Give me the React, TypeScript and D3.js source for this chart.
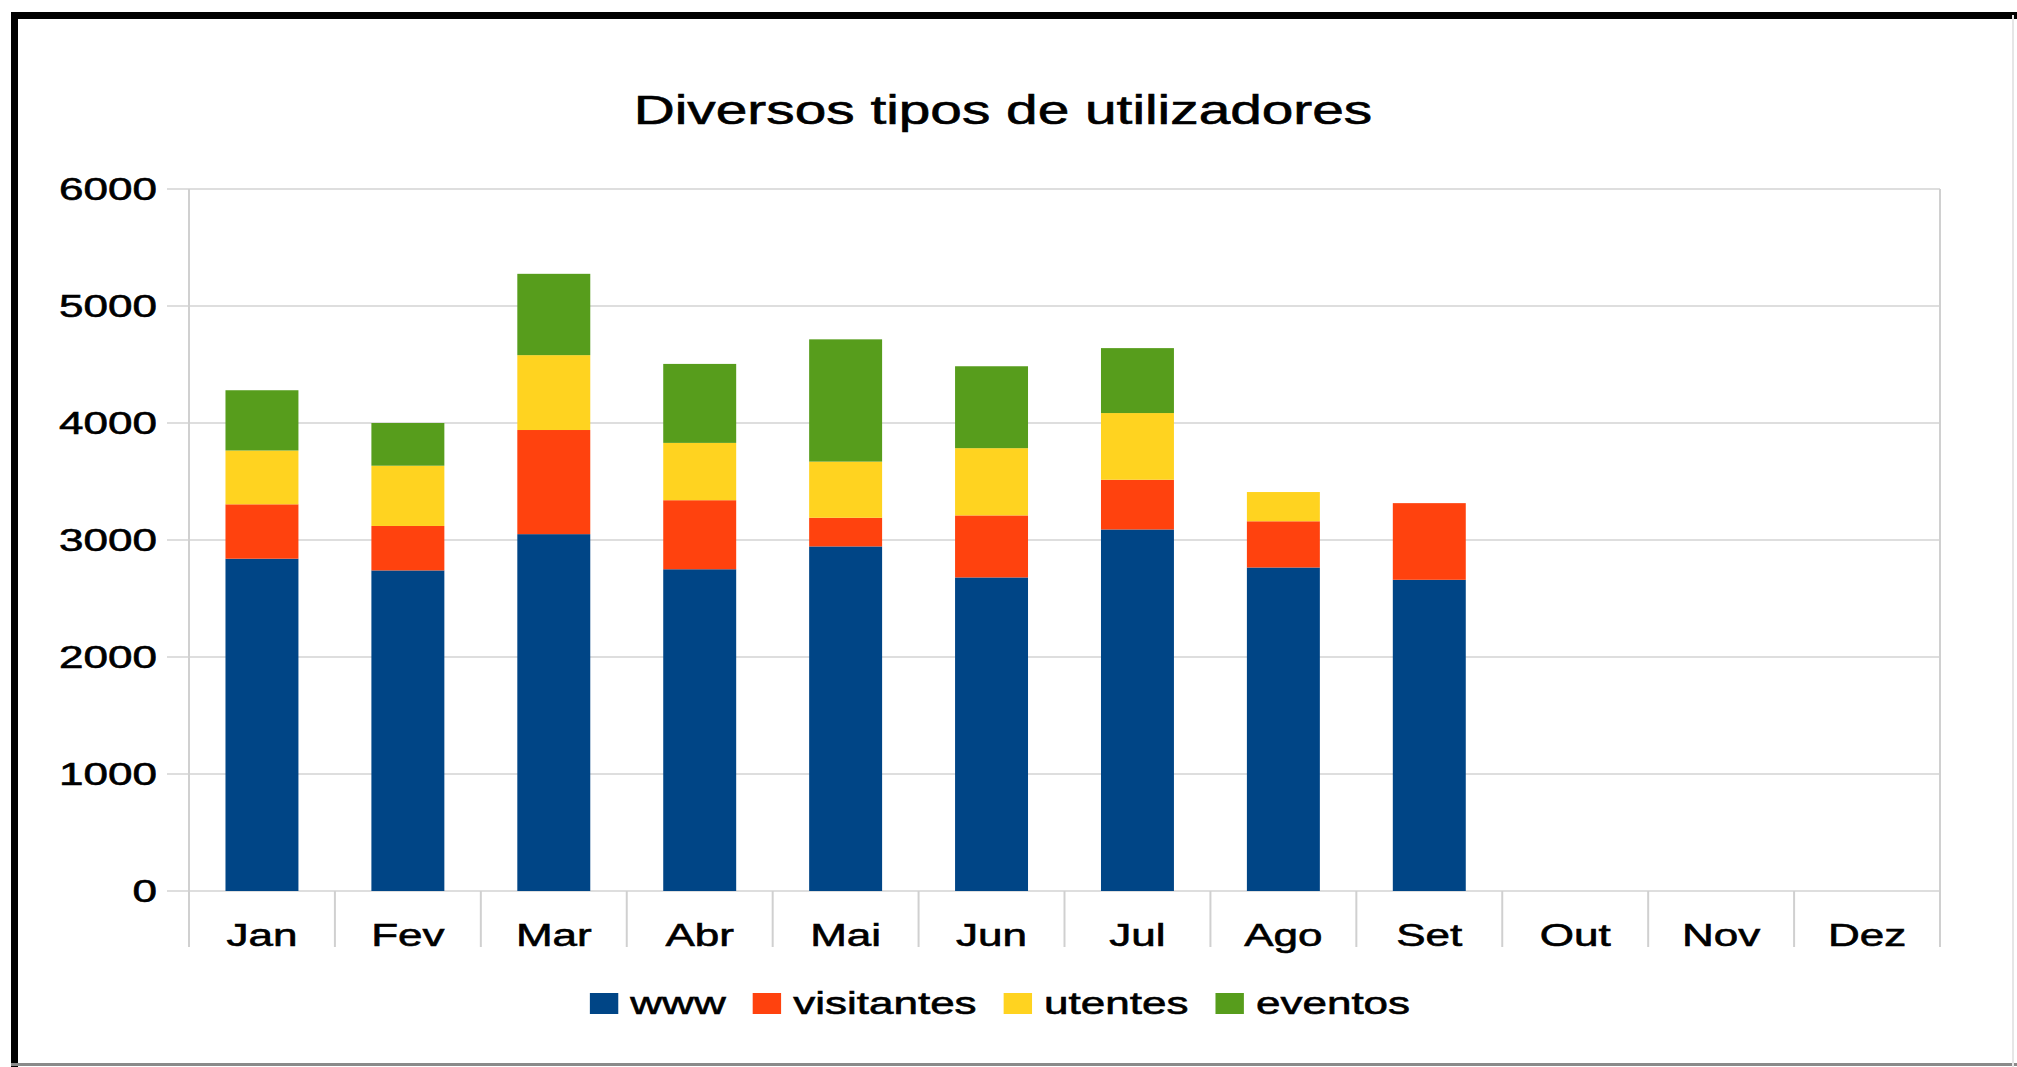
import React, { useMemo } from 'react';
import * as d3 from 'd3';

const months = ['Jan', 'Fev', 'Mar', 'Abr', 'Mai', 'Jun', 'Jul', 'Ago', 'Set', 'Out', 'Nov', 'Dez'];
const seriesNames = ['www', 'visitantes', 'utentes', 'eventos'];
const www = [2840, 2740, 3050, 2750, 2945, 2680, 3090, 2765, 2660, 0, 0, 0];
const visitantes = [465, 380, 890, 590, 245, 530, 425, 395, 655, 0, 0, 0];
const utentes = [460, 515, 640, 490, 480, 575, 570, 250, 0, 0, 0, 0];
const eventos = [515, 365, 695, 675, 1045, 700, 555, 0, 0, 0, 0, 0];
const yTicks = [0, 1000, 2000, 3000, 4000, 5000, 6000];
const title = 'Diversos tipos de utilizadores';
const colors = ['#004586', '#ff420e', '#ffd320', '#579d1c'];

const W = 2017;
const H = 1067;
const SX = 1.42;
const FONT = '"Liberation Sans", Arial, Helvetica, sans-serif';
const FS = 31;
const TITLE_FS = 40;

const plot = { left: 189, right: 1940, top: 189, bottom: 891 };

function measure(text: string, size: number): number {
  const c = document.createElement('canvas').getContext('2d');
  if (!c) return text.length * size * 0.55;
  c.font = `${size}px ${FONT}`;
  return c.measureText(text).width;
}

function T(props: { x: number; y: number; size: number; anchor?: string; children: React.ReactNode }) {
  const { x, y, size, anchor = 'start', children } = props;
  return (
    <text
      transform={`translate(${x},${y}) scale(${SX},1)`}
      textAnchor={anchor}
      fontFamily={FONT}
      fontSize={size}
      fill="#000"
      stroke="#000"
      strokeWidth={0.6}
    >
      {children}
    </text>
  );
}

export default function App() {
  const data = useMemo(
    () =>
      months.map((m, i) => ({
        month: m,
        www: www[i],
        visitantes: visitantes[i],
        utentes: utentes[i],
        eventos: eventos[i],
      })),
    []
  );
  const stacked = useMemo(() => d3.stack<any>().keys(seriesNames)(data), [data]);

  const x = d3
    .scaleBand<string>()
    .domain(months)
    .range([plot.left, plot.right])
    .paddingInner(0.5)
    .paddingOuter(0.25);
  const y = d3.scaleLinear().domain([0, 6000]).range([plot.bottom, plot.top]);
  const step = x.step();

  // legend layout
  const sq = 20;
  const gapSq = 8.5;
  const gapItem = 19;
  const widths = seriesNames.map((s) => measure(s, FS));
  const totalUnscaled =
    seriesNames.length * (sq + gapSq) + widths.reduce((a, b) => a + b, 0) + (seriesNames.length - 1) * gapItem;
  const legendCenter = 1000;
  let lx = legendCenter - (totalUnscaled * SX) / 2;
  const legendItems = seriesNames.map((s, i) => {
    const item = { name: s, color: colors[i], x: lx, tx: lx + (sq + gapSq) * SX };
    lx += (sq + gapSq + widths[i] + gapItem) * SX;
    return item;
  });

  const sepBottom = 947;

  return (
    <svg
      width={W}
      height={H}
      viewBox={`0 0 ${W} ${H}`}
      style={{ position: 'absolute', left: 0, top: 0, background: '#fff' }}
    >
      <rect x={0} y={0} width={W} height={H} fill="#fff" />
      {/* frame */}
      <line x1={14.5} y1={12} x2={14.5} y2={H} stroke="#000" strokeWidth={7} />
      <line x1={11} y1={15.5} x2={W} y2={15.5} stroke="#000" strokeWidth={7} />
      <line x1={11} y1={1064.5} x2={W} y2={1064.5} stroke="#8a8a8a" strokeWidth={3} />
      <line x1={2013} y1={15} x2={2013} y2={H} stroke="#e6e6e6" strokeWidth={2} />

      {/* title */}
      <T x={1003} y={124} size={TITLE_FS} anchor="middle">
        {title}
      </T>

      {/* gridlines */}
      {yTicks.map((t) => (
        <line key={t} x1={plot.left - 22} x2={plot.right} y1={y(t)} y2={y(t)} stroke="#dedede" strokeWidth={2} />
      ))}
      {/* vertical axis lines */}
      <line x1={plot.left} x2={plot.left} y1={plot.top} y2={sepBottom} stroke="#d0d0d0" strokeWidth={2} />
      <line x1={plot.right} x2={plot.right} y1={plot.top} y2={sepBottom} stroke="#d0d0d0" strokeWidth={2} />
      {months.slice(1).map((m) => {
        const xb = (x(m) as number) - step * 0.25;
        return <line key={m} x1={xb} x2={xb} y1={plot.bottom} y2={sepBottom} stroke="#d0d0d0" strokeWidth={2} />;
      })}

      {/* bars */}
      {stacked.map((layer, li) => (
        <g key={layer.key} fill={colors[li]}>
          {layer.map((d, i) => {
            const h = y(d[0]) - y(d[1]);
            if (h <= 0) return null;
            return <rect key={i} x={x(months[i])} y={y(d[1])} width={x.bandwidth()} height={h} />;
          })}
        </g>
      ))}

      {/* y tick labels */}
      {yTicks.map((t) => (
        <T key={t} x={157} y={y(t) + 11} size={FS} anchor="end">
          {String(t)}
        </T>
      ))}

      {/* x labels */}
      {months.map((m) => (
        <T key={m} x={(x(m) as number) + x.bandwidth() / 2} y={946} size={FS} anchor="middle">
          {m}
        </T>
      ))}

      {/* legend */}
      {legendItems.map((it) => (
        <g key={it.name}>
          <rect x={it.x} y={993} width={sq * SX} height={21} fill={it.color} />
          <T x={it.tx} y={1014} size={FS}>
            {it.name}
          </T>
        </g>
      ))}
    </svg>
  );
}
